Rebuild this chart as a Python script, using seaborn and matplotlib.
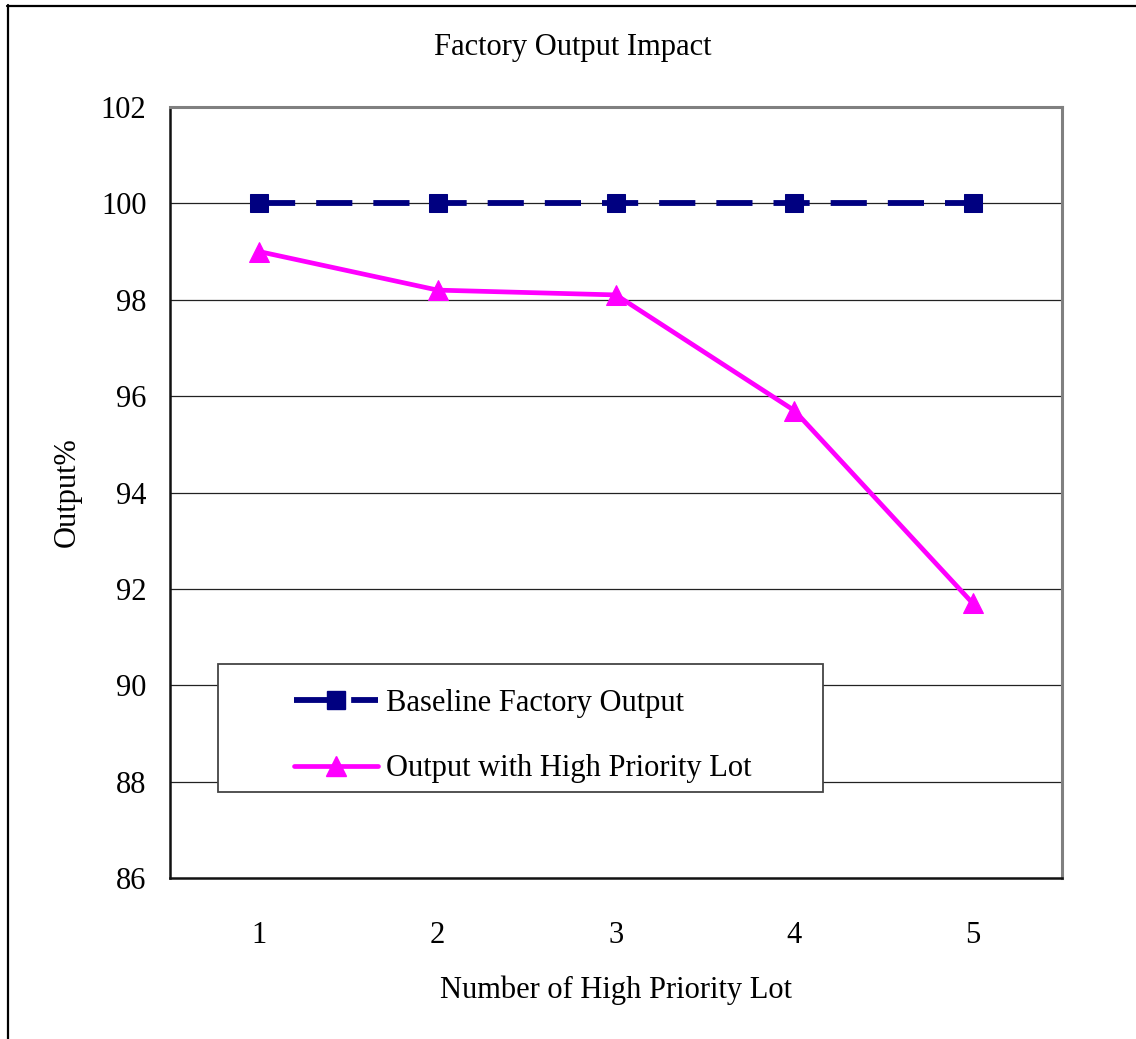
import matplotlib
matplotlib.use("Agg")
import matplotlib.pyplot as plt
from matplotlib.lines import Line2D
from matplotlib.patches import Rectangle
import seaborn as sns
import pandas as pd

# ---- data ----
lots = [1, 2, 3, 4, 5]
baseline = [100, 100, 100, 100, 100]
with_priority = [99.0, 98.2, 98.1, 95.7, 91.7]
y_ticks = [86, 88, 90, 92, 94, 96, 98, 100, 102]
series_names = ["Baseline Factory Output", "Output with High Priority Lot"]
title = "Factory Output Impact"
x_label = "Number of High Priority Lot"
y_label = "Output%"

sns.set_style("white")
plt.rcParams["font.family"] = ["Liberation Serif", "DejaVu Serif"]
plt.rcParams["text.color"] = "black"
plt.rcParams["axes.labelcolor"] = "black"
plt.rcParams["xtick.color"] = "black"
plt.rcParams["ytick.color"] = "black"
FS = 22

NAVY = "#000080"
PINK = "#FF00FF"
BASE_LW = 4.2
PINK_LW = 3.4
BASE_DASH = (0, (6.2, 3.6))

W, H = 1136, 1039
fig = plt.figure(figsize=(W / 100, H / 100), dpi=100)
ax = fig.add_axes([170 / W, 1 - 878 / H, 892 / W, 771 / H])

df_base = pd.DataFrame({"lot": lots, "value": baseline})
df_pri = pd.DataFrame({"lot": lots, "value": with_priority})

sns.lineplot(data=df_base, x="lot", y="value", ax=ax, color=NAVY,
             linewidth=BASE_LW, linestyle=BASE_DASH, marker="s",
             markersize=12.5, markeredgecolor=NAVY, markerfacecolor=NAVY,
             zorder=4, legend=False)
sns.lineplot(data=df_pri, x="lot", y="value", ax=ax, color=PINK,
             linewidth=PINK_LW, marker="^", markersize=14.5,
             markeredgecolor=PINK, markerfacecolor=PINK,
             zorder=4, legend=False)

ax.set_xlim(0.5, 5.5)
ax.set_ylim(86, 102)
ax.set_yticks(y_ticks)
ax.set_yticklabels([str(v) for v in y_ticks], fontsize=FS)
ax.set_xticks(lots)
ax.set_xticklabels([str(v) for v in lots], fontsize=FS)
ax.set_xticks([1.5, 2.5, 3.5, 4.5], minor=True)
ax.tick_params(axis="x", which="major", length=0, pad=31)
ax.tick_params(axis="x", which="minor", direction="in", length=9, width=1.2, color="#333333")
ax.tick_params(axis="y", which="major", direction="in", length=8, width=1.2, color="#333333", pad=17)

for v in y_ticks[1:-1]:
    ax.axhline(v, color="#222222", linewidth=0.9, zorder=1)

ax.set_xlabel(x_label, fontsize=FS, labelpad=18)
ax.set_ylabel(y_label, fontsize=FS, labelpad=14)

for side in ["top", "right"]:
    ax.spines[side].set_color("#808080")
    ax.spines[side].set_linewidth(2.2)
for side in ["left", "bottom"]:
    ax.spines[side].set_color("#111111")
    ax.spines[side].set_linewidth(1.8)

# legend box
lx0, lx1 = (218 - 170) / 892, (823 - 170) / 892
ly0, ly1 = (878 - 792) / 771, (878 - 664) / 771
ax.add_patch(Rectangle((lx0, ly0), lx1 - lx0, ly1 - ly0, transform=ax.transAxes,
                       facecolor="white", edgecolor="#444444", linewidth=1.3, zorder=5))
handles = [
    Line2D([], [], color=NAVY, linewidth=BASE_LW, linestyle=BASE_DASH,
           marker="s", markersize=12.5),
    Line2D([], [], color=PINK, linewidth=PINK_LW, marker="^", markersize=14.5),
]
leg = ax.legend(handles, series_names, loc="upper left",
                bbox_to_anchor=((296 - 170) / 892 - 0.012, (878 - 680) / 771),
                frameon=False, fontsize=FS, handlelength=2.75, handletextpad=0.25,
                labelspacing=1.18, borderpad=0.3, borderaxespad=0)
leg.set_zorder(6)

fig.text(573 / W, 1 - 47 / H, title, ha="center", va="center", fontsize=FS)

# outer chart-area border (top and left visible)
fig.add_artist(Line2D([7 / W, 1], [1 - 5.5 / H, 1 - 5.5 / H], color="black",
                      linewidth=1.6, transform=fig.transFigure))
fig.add_artist(Line2D([7.5 / W, 7.5 / W], [0, 1 - 5 / H], color="black",
                      linewidth=1.6, transform=fig.transFigure))

fig.savefig("out.png", dpi=100, facecolor="white")
